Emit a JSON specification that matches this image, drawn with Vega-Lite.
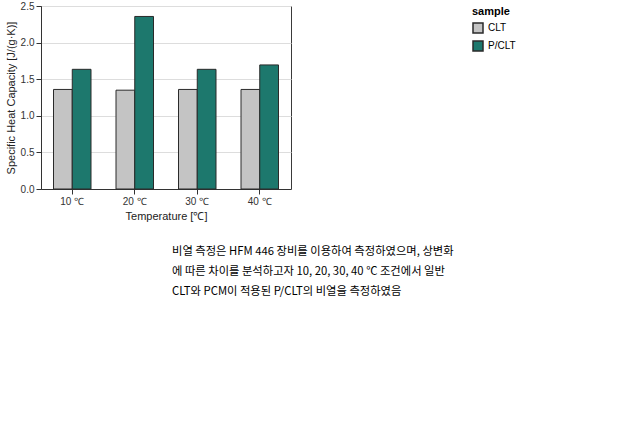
{
  "$schema": "https://vega.github.io/schema/vega-lite/v6.json",
  "background": "white",
  "padding": {"left": 4, "top": 0, "right": 0, "bottom": 0},
  "config": {
    "font": "Liberation Sans",
    "view": {"stroke": null},
    "axis": {"labelFont": "Liberation Sans", "titleFont": "Liberation Sans", "titleFontWeight": "normal", "labelColor": "#333333", "titleColor": "#222222", "domainColor": "#333333", "tickColor": "#333333"}
  },
  "datasets": {
    "heat": [
      {"temp": "10 ℃", "sample": "CLT", "cp": 1.36},
      {"temp": "10 ℃", "sample": "P/CLT", "cp": 1.635},
      {"temp": "20 ℃", "sample": "CLT", "cp": 1.35},
      {"temp": "20 ℃", "sample": "P/CLT", "cp": 2.357},
      {"temp": "30 ℃", "sample": "CLT", "cp": 1.36},
      {"temp": "30 ℃", "sample": "P/CLT", "cp": 1.635},
      {"temp": "40 ℃", "sample": "CLT", "cp": 1.36},
      {"temp": "40 ℃", "sample": "P/CLT", "cp": 1.695}
    ],
    "notes": [
      {"line": 1, "bullet": "◆", "text": "비열 측정은 HFM 446 장비를 이용하여 측정하였으며, 상변화"},
      {"line": 2, "bullet": "", "text": "에 따른 차이를 분석하고자 10, 20, 30, 40 ℃ 조건에서 일반"},
      {"line": 3, "bullet": "", "text": "CLT와 PCM이 적용된 P/CLT의 비열을 측정하였음"}
    ]
  },
  "vconcat": [
    {
      "width": 250,
      "height": 183,
      "view": {"stroke": "#3a3a3a", "strokeWidth": 1},
      "data": {"name": "heat"},
      "mark": {"type": "bar", "stroke": "#2a2a2a", "strokeWidth": 1},
      "encoding": {
        "x": {"field": "temp", "type": "nominal", "sort": null, "title": "Temperature [℃]",
          "scale": {"paddingInner": 0.4, "paddingOuter": 0.2}, "axis": {"labelAngle": 0}},
        "xOffset": {"field": "sample", "type": "nominal"},
        "y": {"field": "cp", "type": "quantitative", "scale": {"domain": [0, 2.5]}, "title": "Specific Heat Capacity [J/(g·K)]"},
        "color": {"field": "sample", "type": "nominal", "scale": {"range": ["#c4c4c4", "#1d786d"]}}
      }
    },
    {
      "width": 262,
      "height": 60,
      "data": {"name": "notes"},
      "mark": {"type": "text", "align": "left", "fontSize": 11.3, "font": "Noto Sans CJK KR"},
      "encoding": {
        "y": {"field": "line", "type": "ordinal", "axis": null},
        "text": {"field": "text"}
      }
    }
  ]
}
